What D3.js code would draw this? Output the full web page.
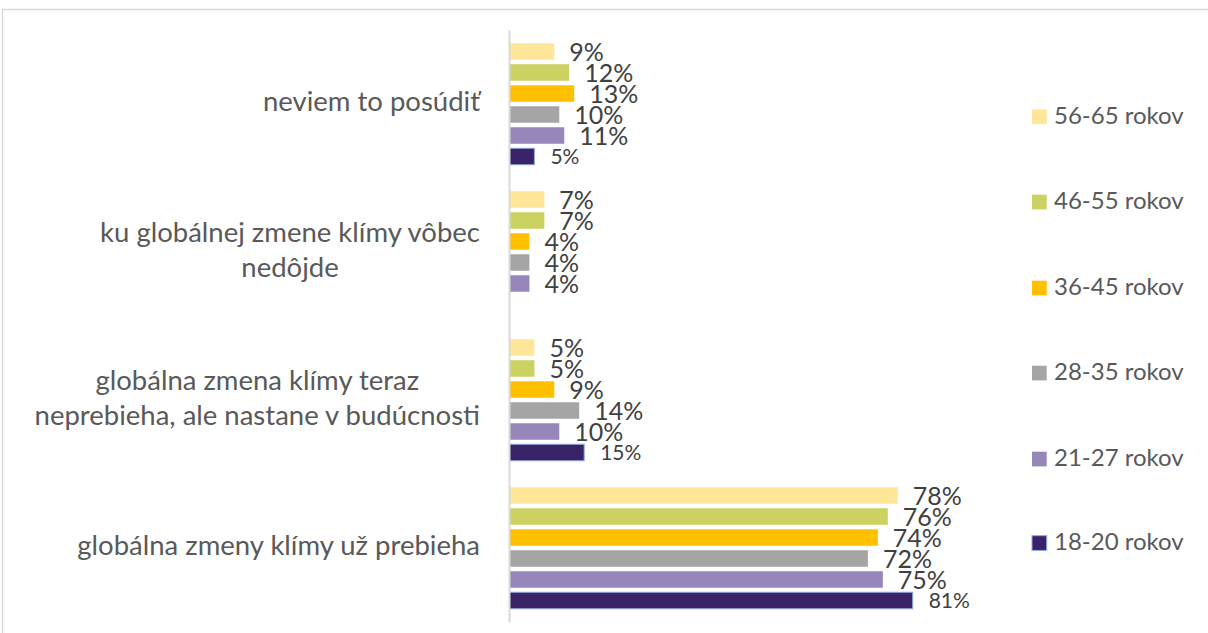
<!DOCTYPE html>
<html>
<head>
<meta charset="utf-8">
<script src="https://cdn.jsdelivr.net/npm/d3@7"></script>
<style>
  html, body { margin: 0; padding: 0; background: #fff; }
  svg { display: block; }
  text { font-family: Lato, "Open Sans", sans-serif; }
</style>
</head>
<body>
<svg id="chart" width="1208" height="633"></svg>
<script>
// ---- data ----
const categories = [
  ["neviem to posúdiť"],
  ["ku globálnej zmene klímy vôbec", "nedôjde"],
  ["globálna zmena klímy teraz", "neprebieha, ale nastane v budúcnosti"],
  ["globálna zmeny klímy už prebieha"]
];
const seriesNames = ["56-65 rokov", "46-55 rokov", "36-45 rokov", "28-35 rokov", "21-27 rokov", "18-20 rokov"];
const v5665 = [9, 7, 5, 78];
const v4655 = [12, 7, 5, 76];
const v3645 = [13, 4, 9, 74];
const v2835 = [10, 4, 14, 72];
const v2127 = [11, 4, 10, 75];
const v1820 = [5, null, 15, 81];
const seriesColors = ["#FFE699", "#CBD261", "#FFC000", "#A5A5A5", "#9786B9", "#392268"];

const seriesValues = [v5665, v4655, v3645, v2835, v2127, v1820];
const catKeys = categories.map((c, i) => "c" + i);

const svg = d3.select("#chart");

// frame
svg.append("rect")
  .attr("x", 2.5).attr("y", 9.5)
  .attr("width", 1220).attr("height", 640)
  .attr("fill", "none").attr("stroke", "#D9D9D9").attr("stroke-width", 1.5);

const plotTop = 30, plotBottom = 622, x0 = 509.5;
const x = d3.scaleLinear().domain([0, 90]).range([x0, x0 + 448]);
const y = d3.scaleBand().domain(catKeys).range([plotTop, plotBottom]).padding(0);
const ySub = d3.scaleBand().domain(seriesNames).range([11, 137])
  .paddingInner(0.214).paddingOuter(0.107);

// bars
const groups = svg.append("g").selectAll("g")
  .data(catKeys)
  .join("g")
  .attr("transform", d => `translate(0,${y(d)})`);

groups.each(function(ck, ci) {
  const g = d3.select(this);
  const rows = seriesNames.map((s, si) => ({ s, si, v: seriesValues[si][ci] }))
    .filter(d => d.v != null);
  g.selectAll("rect")
    .data(rows)
    .join("rect")
    .attr("x", x(0))
    .attr("y", d => ySub(d.s))
    .attr("width", d => x(d.v) - x(0))
    .attr("height", ySub.bandwidth())
    .attr("fill", d => seriesColors[d.si])
    .attr("stroke", d => d.si === 5 ? "#8FAADC" : "none")
    .attr("stroke-width", 1);
  g.selectAll("text.lbl")
    .data(rows)
    .join("text")
    .attr("class", "lbl")
    .attr("x", d => x(d.v) + (d.si === 5 ? 16 : 15))
    .attr("y", d => ySub(d.s) + ySub.bandwidth() / 2 + (d.si === 5 ? 2.5 : 3))
    .attr("dominant-baseline", "middle")
    .attr("font-size", d => d.si === 5 ? 21 : 25)
    .attr("fill", "#404040")
    .text(d => d.v + "%");
});

// axis (vertical category axis)
const axis = d3.axisLeft(y).tickSize(0).tickPadding(0).tickFormat("");
const axG = svg.append("g").attr("transform", `translate(${x0 - 0.5},0)`).call(axis);
axG.select(".domain").attr("stroke", "#D9D9D9").attr("stroke-width", 2);

// category labels
const labelRight = 480, lineGap = 35;
axG.selectAll(".tick").each(function(ck, ci) {
  const lines = categories[ci];
  const t = d3.select(this).append("text")
    .attr("fill", "#595959")
    .attr("font-size", 27.5)
    .attr("text-anchor", "middle")
    .attr("dominant-baseline", "middle");
  const spans = lines.map((ln, li) => t.append("tspan")
    .attr("y", (li - (lines.length - 1) / 2) * lineGap)
    .text(ln));
  let w = 0;
  spans.forEach(s => { w = Math.max(w, s.node().getComputedTextLength()); });
  const cx = labelRight - (x0 - 0.5) - w / 2;
  spans.forEach(s => s.attr("x", cx));
});

// legend
const legendY = [116.7, 202, 288, 373, 459, 543];
const leg = svg.append("g").selectAll("g")
  .data(seriesNames)
  .join("g")
  .attr("transform", (d, i) => `translate(1032,${legendY[i]})`);
leg.append("rect")
  .attr("x", 0).attr("y", -7.3)
  .attr("width", 14.7).attr("height", 14.7)
  .attr("fill", (d, i) => seriesColors[i])
  .attr("stroke", (d, i) => i === 5 ? "#8FAADC" : "none");
leg.append("text")
  .attr("x", 22).attr("y", 1)
  .attr("dominant-baseline", "middle")
  .attr("font-size", 24)
  .attr("fill", "#595959")
  .text(d => d);
</script>
</body>
</html>
